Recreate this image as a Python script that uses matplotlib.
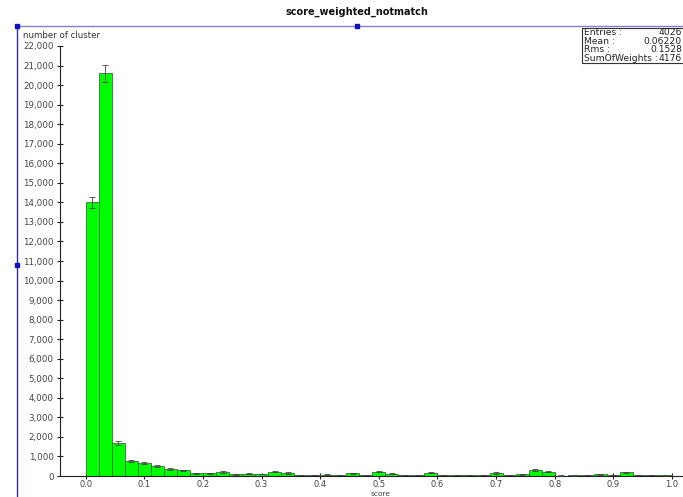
import matplotlib
matplotlib.use("Agg")
import matplotlib.pyplot as plt
from matplotlib.lines import Line2D
from matplotlib.patches import Rectangle
from matplotlib.ticker import FuncFormatter, MultipleLocator
import numpy as np

# histogram contents, 45 bins over [0, 1]
n_bins = 45
counts = [14000, 20600, 1700, 780, 680, 520, 350, 290, 130, 130,
          200, 90, 120, 100, 220, 150, 50, 50, 70, 50,
          130, 60, 220, 110, 50, 50, 160, 40, 40, 60,
          60, 150, 50, 90, 300, 230, 20, 30, 60, 80,
          40, 190, 60, 50, 30]
errors = [300, 450, 110, 60, 55, 65, 45, 40, 25, 25,
          35, 20, 25, 20, 40, 30, 15, 15, 20, 15,
          25, 15, 40, 25, 15, 15, 30, 12, 12, 15,
          15, 30, 15, 20, 45, 40, 10, 10, 15, 20,
          12, 35, 15, 15, 10]
stats_keys = ["Entries :", "Mean :", "Rms :", "SumOfWeights :"]
stats_vals = ["4026", "0.06220", "0.1528", "4176"]

W, H = 683, 497
fig = plt.figure(figsize=(W / 100, H / 100), dpi=100)
ax = fig.add_axes([60 / W, 1 - 476 / H, 1 - 60 / W, (476 - 46) / H])

edges = np.linspace(0, 1, n_bins + 1)
width = edges[1] - edges[0]
centers = edges[:-1] + width / 2
ax.bar(edges[:-1], counts, width=width, align="edge", color="#00ff00",
       edgecolor="#3a6e3a", linewidth=0.6, zorder=2)
ax.errorbar(centers, counts, yerr=errors, fmt="none", ecolor="#444444",
            elinewidth=0.6, capsize=2, capthick=0.6, zorder=3)

ax.set_xlim(-0.044, 1.019)
ax.set_ylim(0, 22000)
ax.xaxis.set_major_locator(MultipleLocator(0.1))
ax.yaxis.set_major_locator(MultipleLocator(1000))
ax.yaxis.set_major_formatter(FuncFormatter(lambda v, p: f"{int(v):,}"))
ax.xaxis.set_major_formatter(FuncFormatter(lambda v, p: f"{v:.1f}"))
for s in ["top", "right"]:
    ax.spines[s].set_visible(False)
for s in ["left", "bottom"]:
    ax.spines[s].set_color("#222222")
    ax.spines[s].set_linewidth(0.8)
ax.tick_params(direction="inout", length=5, width=0.8, color="#222222",
               labelsize=6.3, labelcolor="#444444", pad=2)
ax.tick_params(axis="x", pad=0.7, labelsize=6)

fig.text(381 / W, 0.4 / H, "score", ha="center", va="bottom",
         fontsize=5.4, color="#444444")
fig.text(357 / W, 1 - 12 / H, "score_weighted_notmatch", ha="center",
         va="center", fontsize=7, fontweight="bold", color="#111111")
fig.text(23 / W, 1 - 36 / H, "number of cluster", ha="left", va="center",
         fontsize=6.2, color="#333333")

# statistics box (cut by the right edge)
fig.add_artist(Rectangle((582 / W, 1 - 63 / H), 110 / W, 35 / H,
                         transform=fig.transFigure, fill=False,
                         edgecolor="#333333", linewidth=0.8))
for i, (k, v) in enumerate(zip(stats_keys, stats_vals)):
    y = 1 - (32.5 + 8.6 * i) / H
    fig.text(584 / W, y, k, ha="left", va="center", fontsize=6.6, color="#222222")
    fig.text(682 / W, y, v, ha="right", va="center", fontsize=6.6, color="#222222")

# selection frame around the region
fig.add_artist(Line2D([17 / W, 1], [1 - 26 / H] * 2, transform=fig.transFigure,
                      color="#8080c8", linewidth=1))
fig.add_artist(Line2D([17 / W] * 2, [0, 1 - 26 / H], transform=fig.transFigure,
                      color="#3030a0", linewidth=1))
for px, py in [(17, 26), (357, 26), (17, 265)]:
    fig.add_artist(Line2D([px / W], [1 - py / H], transform=fig.transFigure,
                          marker="s", markersize=2.5, color="#1010c0"))

fig.savefig("out.png", dpi=100)
